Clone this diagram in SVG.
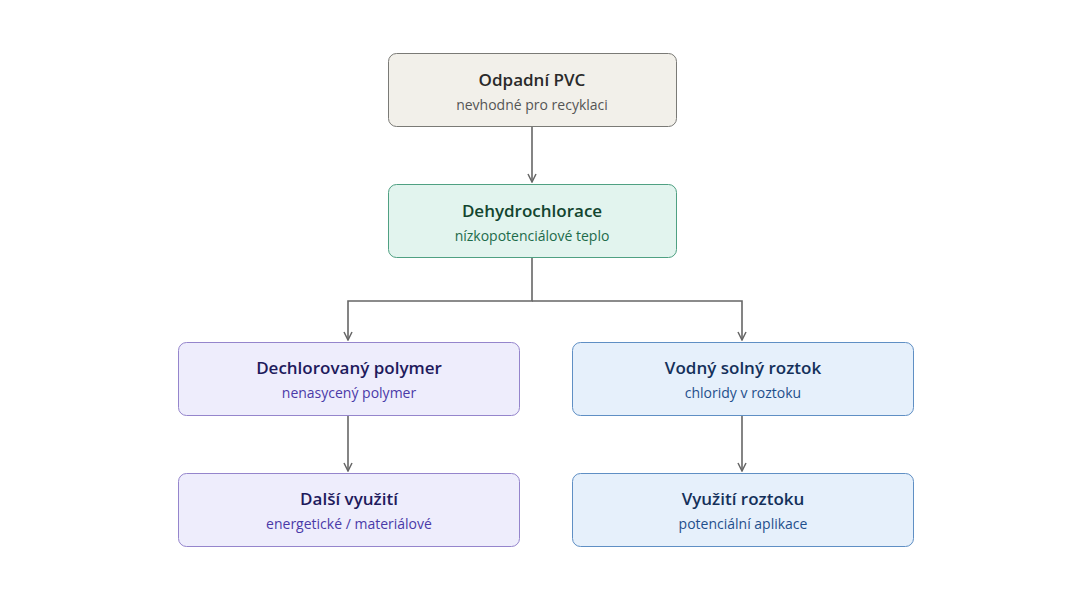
<svg xmlns="http://www.w3.org/2000/svg" width="1065" height="600" viewBox="0 0 1065 600">
<defs>
<marker id="ah" viewBox="0 0 10 10" refX="9" refY="5" markerWidth="10" markerHeight="10" markerUnits="userSpaceOnUse" orient="auto"><path d="M1,1 L9,5 L1,9" fill="none" stroke="#666" stroke-width="1.5"/></marker>
<style>
.t{font-family:"Open Sans","Noto Sans",sans-serif;font-size:17px;font-weight:600;text-anchor:middle}
.s{font-family:"Open Sans","Noto Sans",sans-serif;font-size:14px;text-anchor:middle}
.c{fill:none;stroke:#666;stroke-width:1.6}
</style>
</defs>
<rect width="1065" height="600" fill="#fff"/>
<g id="connectors">
<path class="c" d="M532,126 V182" marker-end="url(#ah)"/>
<path class="c" d="M532,257 V301 H348 V340" marker-end="url(#ah)"/>
<path class="c" d="M532,301 H742 V340" marker-end="url(#ah)"/>
<path class="c" d="M348,415 V471" marker-end="url(#ah)"/>
<path class="c" d="M742,415 V471" marker-end="url(#ah)"/>
</g>
<g id="n1"><rect x="388.5" y="53.5" width="288" height="73" rx="8" fill="#f2f0ea" stroke="#7a7a76"/>
<text class="t" x="532" y="86" fill="#2a2a2a">Odpadní PVC</text><text class="s" x="532" y="110" fill="#555">nevhodné pro recyklaci</text></g>
<g id="n2"><rect x="388.5" y="184.5" width="288" height="73" rx="8" fill="#e2f4ee" stroke="#4fa082"/>
<text class="t" x="532" y="217" fill="#12452f">Dehydrochlorace</text><text class="s" x="532" y="241" fill="#1d6b4a">nízkopotenciálové teplo</text></g>
<g id="n3"><rect x="178.5" y="342.5" width="341" height="73" rx="8" fill="#eeedfc" stroke="#9585cc"/>
<text class="t" x="349" y="374" fill="#1e1a5c">Dechlorovaný polymer</text><text class="s" x="349" y="398" fill="#4a3aa8">nenasycený polymer</text></g>
<g id="n4"><rect x="572.5" y="342.5" width="341" height="73" rx="8" fill="#e6f0fb" stroke="#5f8fc4"/>
<text class="t" x="743" y="374" fill="#14305a">Vodný solný roztok</text><text class="s" x="743" y="398" fill="#1f4f8c">chloridy v roztoku</text></g>
<g id="n5"><rect x="178.5" y="473.5" width="341" height="73" rx="8" fill="#eeedfc" stroke="#9585cc"/>
<text class="t" x="349" y="505" fill="#1e1a5c">Další využití</text><text class="s" x="349" y="529" fill="#4a3aa8">energetické / materiálové</text></g>
<g id="n6"><rect x="572.5" y="473.5" width="341" height="73" rx="8" fill="#e6f0fb" stroke="#5f8fc4"/>
<text class="t" x="743" y="505" fill="#14305a">Využití roztoku</text><text class="s" x="743" y="529" fill="#1f4f8c">potenciální aplikace</text></g>
</svg>
